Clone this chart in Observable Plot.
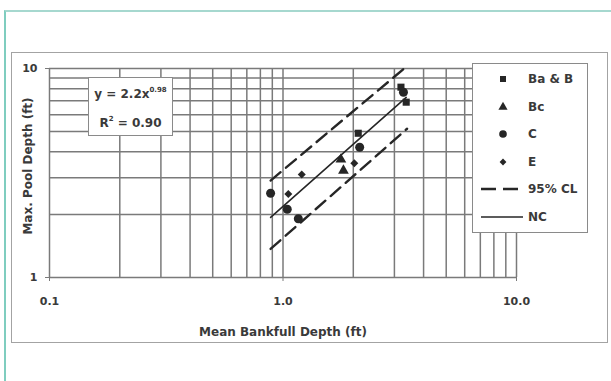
<!DOCTYPE html>
<html>
<head>
<meta charset="utf-8">
<script src="https://cdn.jsdelivr.net/npm/d3@7"></script>
<script src="https://cdn.jsdelivr.net/npm/@observablehq/plot@0.6"></script>
<style>
html,body{margin:0;padding:0;background:#fff;overflow:hidden;width:611px;height:381px}
#wrap{position:relative;width:611px;height:381px;font-family:"DejaVu Sans",sans-serif;font-weight:bold;color:#3a3a3a}
#chart{position:absolute;left:0;top:0}
#teal{position:absolute;left:4px;top:10px;width:640px;height:420px;border-left:2px solid #7fcdbf;border-top:2px solid #a6d8cf;pointer-events:none}
#box{position:absolute;left:11px;top:52px;width:595px;height:289px;border:1.5px solid #a3a3a3;pointer-events:none}
#eq{position:absolute;left:88px;top:77px;width:83px;height:57px;border:1.5px solid #8a8a8a;background:#fff;font-size:12px;text-align:center;line-height:14px}
#eq .l1{position:absolute;left:0;right:0;top:9px}
#eq .l2{position:absolute;left:0;right:0;top:38px}
#eq sup{font-size:7px;vertical-align:0;position:relative;top:-6px}
#legend{position:absolute;left:472px;top:63px;width:114px;height:168px;border:1.5px solid #8a8a8a;background:#fff;font-size:12px}
.row{position:absolute;left:0;height:28px;display:flex;align-items:center}
.row svg{position:absolute;left:8px;top:0}
.row span{position:absolute;left:55px;white-space:nowrap;line-height:28px;top:0}
#xtitle{position:absolute;left:283px;top:332px;transform:translate(-50%,-50%);font-size:12px;white-space:nowrap}
#ytitle{position:absolute;left:28px;top:166px;transform:translate(-50%,-50%) rotate(-90deg);font-size:12px;white-space:nowrap}
</style>
</head>
<body>
<div id="wrap">
  <div id="chart"></div>
  <div id="teal"></div>
  <div id="box"></div>
  <div id="eq"><div class="l1">y = 2.2x<sup>0.98</sup></div><div class="l2">R<sup>2</sup> = 0.90</div></div>
  <div id="legend"></div>
  <div id="xtitle">Mean Bankfull Depth (ft)</div>
  <div id="ytitle">Max. Pool Depth (ft)</div>
</div>
<script>
// ---- data ----
const seriesNames = ["Ba & B", "Bc", "C", "E"];
const lineNames = ["95% CL", "NC"];

const baB_x = [3.20, 3.37, 2.10];
const baB_y = [8.14, 6.90, 4.90];

const bc_x = [1.77, 1.815];
const bc_y = [3.67, 3.25];

const c_x = [0.885, 1.043, 1.163, 3.28, 2.13];
const c_y = [2.53, 2.12, 1.91, 7.70, 4.20];

const e_x = [1.054, 1.203, 2.02];
const e_y = [2.51, 3.11, 3.52];

const nc_x = [0.885, 3.37];
const nc_y = [1.94, 7.27];
const clUpper_x = [0.885, 3.41];
const clUpper_y = [2.91, 10.3];
const clLower_x = [0.885, 3.40];
const clLower_y = [1.37, 5.15];

const xGrid = [0.1,0.2,0.3,0.4,0.5,0.6,0.7,0.8,0.9,1,2,3,4,5,6,7,8,9,10];
const yGrid = [1,2,3,4,5,6,7,8,9,10];
const xTickValues = [0.1, 1, 10];
const xTickLabels = ["0.1", "1.0", "10.0"];
const yTickValues = [1, 10];
const yTickLabels = ["1", "10"];

// ---- helpers ----
const pts = (xs, ys) => xs.map((x, i) => ({x, y: ys[i]}));
const markStyle = {
  "Ba & B": {symbol: "square", r: 4},
  "Bc": {symbol: "triangle", r: 4},
  "C": {symbol: "circle", r: 4.5},
  "E": {symbol: "diamond2", r: 3.6}
};
const seriesData = {
  "Ba & B": pts(baB_x, baB_y),
  "Bc": pts(bc_x, bc_y),
  "C": pts(c_x, c_y),
  "E": pts(e_x, e_y)
};
const ink = "#262626";
const gridColor = "#7a7a7a";

const plot = Plot.plot({
  width: 611,
  height: 381,
  marginLeft: 49,
  marginRight: 95,
  marginTop: 68,
  marginBottom: 104,
  style: {background: "transparent", fontFamily: "DejaVu Sans", fontSize: "11px", fontWeight: "bold", color: "#3a3a3a", overflow: "visible"},
  x: {type: "log", domain: [0.1, 10]},
  y: {type: "log", domain: [1, 10]},
  marks: [
    Plot.ruleX(xGrid, {stroke: gridColor, strokeWidth: 1.5}),
    Plot.ruleY(yGrid, {stroke: gridColor, strokeWidth: 1.5}),
    Plot.line(pts(clUpper_x, clUpper_y), {x: "x", y: "y", stroke: ink, strokeWidth: 2.4, strokeDasharray: "13,7"}),
    Plot.line(pts(clLower_x, clLower_y), {x: "x", y: "y", stroke: ink, strokeWidth: 2.4, strokeDasharray: "13,7"}),
    Plot.line(pts(nc_x, nc_y), {x: "x", y: "y", stroke: ink, strokeWidth: 1.6}),
    ...seriesNames.map(name => Plot.dot(seriesData[name], {
      x: "x", y: "y", symbol: markStyle[name].symbol, r: markStyle[name].r, fill: ink, stroke: "none"
    })),
    Plot.axisX(xTickValues, {tickSize: 4, tickPadding: 16, label: null, stroke: gridColor,
      tickFormat: d => xTickLabels[xTickValues.indexOf(d)]}),
    Plot.axisY(yTickValues, {tickSize: 4, tickPadding: 8, label: null, stroke: gridColor,
      tickFormat: d => yTickLabels[yTickValues.indexOf(d)]})
  ]
});
document.getElementById("chart").appendChild(plot);

// ---- legend ----
const legend = document.getElementById("legend");
const rowH = 27.6;
const entries = [...seriesNames.map(n => ({name: n, kind: "dot"})),
  {name: lineNames[0], kind: "dash"}, {name: lineNames[1], kind: "solid"}];
entries.forEach((e, i) => {
  const row = document.createElement("div");
  row.className = "row";
  row.style.top = (1 + i * rowH) + "px";
  const svg = d3.create("svg").attr("width", 44).attr("height", 28);
  if (e.kind === "dot") {
    const ms = markStyle[e.name];
    const symMap = {square: d3.symbolSquare, triangle: d3.symbolTriangle, circle: d3.symbolCircle, diamond2: d3.symbolDiamond2};
    const size = Math.PI * (ms.r * 0.85) ** 2;
    svg.append("path").attr("transform", "translate(22,14)")
      .attr("d", d3.symbol(symMap[ms.symbol], size)()).attr("fill", ink);
  } else {
    svg.append("line").attr("x1", 0).attr("x2", 42).attr("y1", 14).attr("y2", 14)
      .attr("stroke", ink)
      .attr("stroke-width", e.kind === "dash" ? 2.4 : 1.6)
      .attr("stroke-dasharray", e.kind === "dash" ? "15,7" : null);
  }
  row.appendChild(svg.node());
  const span = document.createElement("span");
  span.textContent = e.name;
  row.appendChild(span);
  legend.appendChild(row);
});
</script>
</body>
</html>
